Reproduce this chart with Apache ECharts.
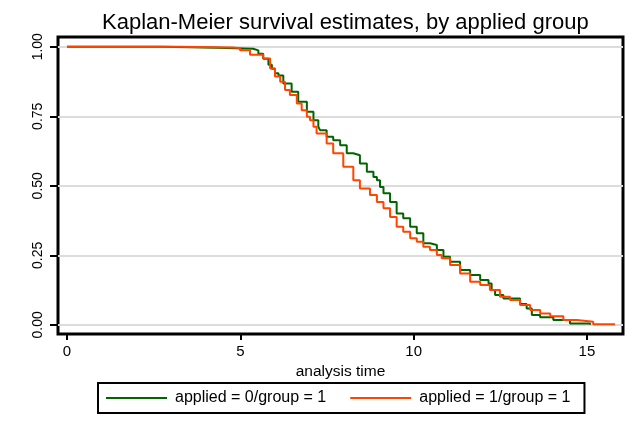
<!DOCTYPE html>
<html>
<head>
<meta charset="utf-8">
<script src="https://cdn.jsdelivr.net/npm/echarts@6/dist/echarts.min.js"></script>
<style>
  html, body { margin: 0; padding: 0; background: #fff; }
  #chart { width: 642px; height: 432px; }
</style>
</head>
<body>
<div id="chart"></div>
<script>
// survival steps: [analysis time, S(t)]
const group0 = [
  [0, 1.0], [2.74, 0.996], [4.33, 0.993], [5.37, 0.987], [5.52, 0.975], [5.66, 0.957],
  [5.81, 0.935], [5.91, 0.921], [6.0, 0.905], [6.1, 0.897], [6.24, 0.868], [6.48, 0.838],
  [6.67, 0.802], [6.92, 0.766], [7.11, 0.736], [7.25, 0.712], [7.3, 0.7], [7.49, 0.676],
  [7.68, 0.664], [7.88, 0.646], [8.07, 0.617], [8.26, 0.61], [8.45, 0.58], [8.65, 0.55],
  [8.84, 0.532], [8.94, 0.52], [9.03, 0.496], [9.13, 0.473], [9.32, 0.442], [9.51, 0.4],
  [9.7, 0.383], [9.9, 0.353], [10.09, 0.329], [10.28, 0.293], [10.47, 0.287], [10.67, 0.269],
  [10.86, 0.245], [11.05, 0.227], [11.34, 0.197], [11.63, 0.179], [11.92, 0.161], [12.16, 0.149],
  [12.25, 0.125], [12.35, 0.107], [12.59, 0.095], [13.07, 0.075], [13.26, 0.059], [13.41, 0.035],
  [13.65, 0.027], [14.03, 0.017], [14.51, 0.005], [15.09, 0.0]
];
const group1 = [
  [0, 1.0], [3.26, 0.997], [4.79, 0.995], [4.99, 0.987], [5.28, 0.971], [5.66, 0.958],
  [5.86, 0.922], [6.0, 0.893], [6.15, 0.874], [6.29, 0.844], [6.43, 0.826], [6.63, 0.796],
  [6.77, 0.772], [6.92, 0.748], [7.01, 0.736], [7.11, 0.712], [7.2, 0.688], [7.49, 0.652],
  [7.68, 0.617], [7.97, 0.568], [8.26, 0.52], [8.45, 0.49], [8.74, 0.467], [8.94, 0.442],
  [9.13, 0.419], [9.32, 0.388], [9.51, 0.353], [9.7, 0.335], [9.9, 0.311], [10.09, 0.299],
  [10.28, 0.281], [10.47, 0.269], [10.67, 0.251], [10.81, 0.239], [11.05, 0.215], [11.34, 0.185],
  [11.63, 0.155], [11.92, 0.143], [12.2, 0.125], [12.49, 0.101], [12.78, 0.089], [13.07, 0.071],
  [13.36, 0.053], [13.65, 0.041], [13.94, 0.031], [14.32, 0.017], [14.71, 0.011], [15.18, 0.002],
  [15.81, 0.002]
];
const xTicks = [0, 5, 10, 15];
const yTicks = [0, 0.25, 0.5, 0.75, 1];
const seriesNames = ['applied = 0/group = 1', 'applied = 1/group = 1'];

const chart = echarts.init(document.getElementById('chart'));
const font = 'Liberation Sans, Arial, sans-serif';

chart.setOption({
  animation: false,
  title: {
    text: 'Kaplan-Meier survival estimates, by applied group',
    left: 97,
    top: 7,
    textStyle: { fontFamily: font, fontSize: 22, fontWeight: 'normal', color: '#000' }
  },
  grid: {
    left: 58, right: 19, top: 37, bottom: 98,
    show: true, borderColor: '#000', borderWidth: 3
  },
  xAxis: {
    type: 'value',
    min: -0.26, max: 16.04,
    name: 'analysis time',
    nameLocation: 'middle',
    nameGap: 27,
    nameTextStyle: { fontFamily: font, fontSize: 15.5, color: '#000' },
    axisLine: { show: false, onZero: false },
    axisTick: { customValues: xTicks, length: 6, lineStyle: { color: '#000', width: 2 } },
    axisLabel: { customValues: xTicks, fontFamily: font, fontSize: 15, color: '#000', margin: 10 },
    splitLine: { show: false }
  },
  yAxis: {
    type: 'value',
    min: -0.033, max: 1.035,
    axisLine: { show: false, onZero: false },
    axisTick: { customValues: yTicks, length: 8, lineStyle: { color: '#000', width: 2 } },
    axisLabel: {
      customValues: yTicks, rotate: 90, margin: 13,
      fontFamily: font, fontSize: 14, color: '#000',
      formatter: v => v.toFixed(2)
    },
    splitLine: { show: true, lineStyle: { color: '#dcdcdc', width: 2 } }
  },
  legend: {
    left: 98, top: 383,
    padding: [7, 14, 7, 8],
    borderColor: '#000', borderWidth: 2,
    icon: 'rect',
    itemWidth: 61, itemHeight: 2, itemGap: 24,
    textStyle: { fontFamily: font, fontSize: 16, color: '#000', padding: [0, 0, 0, 3] },
    data: seriesNames
  },
  series: [
    {
      name: seriesNames[0], type: 'line', step: 'end', symbol: 'none',
      data: group0, lineStyle: { color: '#006400', width: 2 }, itemStyle: { color: '#006400' }
    },
    {
      name: seriesNames[1], type: 'line', step: 'end', symbol: 'none',
      data: group1, lineStyle: { color: '#ff4500', width: 2 }, itemStyle: { color: '#ff4500' }
    }
  ]
});
</script>
</body>
</html>
